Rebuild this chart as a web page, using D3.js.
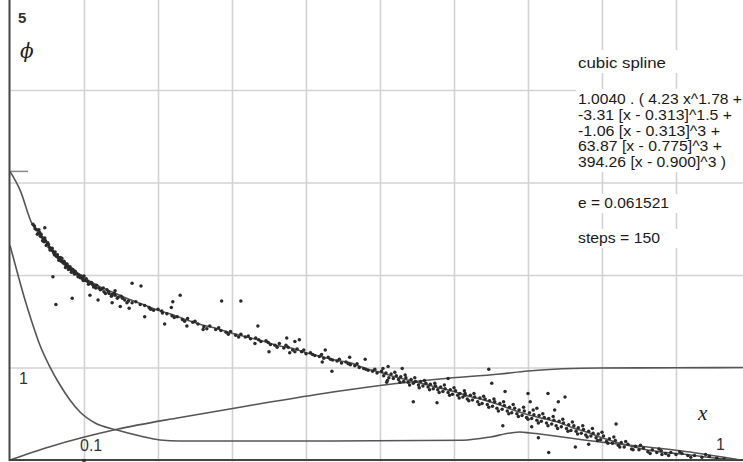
<!DOCTYPE html>
<html>
<head>
<meta charset="utf-8">
<script src="https://cdn.jsdelivr.net/npm/d3@7"></script>
<style>
  html, body { margin: 0; padding: 0; background: #fff; }
  svg { display: block; }
</style>
</head>
<body>
<svg id="chart" width="743" height="462"></svg>
<script>
// ---------- DATA ----------
const xGrid = [0.1, 0.2, 0.3, 0.4, 0.5, 0.6, 0.7, 0.8, 0.9];
const yGrid = [1, 2, 3, 4];
const yTickLabels = [{ v: 5, t: "5" }, { v: 1, t: "1" }];
const xTickLabels = [{ v: 0.1, t: "0.1" }, { v: 1, t: "1" }];

// fitted cubic spline (x, phi)
const fitCurve = [
  [0, 3.12], [0.0135, 2.92], [0.03, 2.55], [0.04, 2.45], [0.05, 2.34], [0.06, 2.24], [0.07, 2.17],
  [0.08, 2.10], [0.09, 2.03], [0.10, 1.97], [0.12, 1.88], [0.14, 1.81], [0.16, 1.74],
  [0.18, 1.68], [0.20, 1.62], [0.22, 1.57], [0.24, 1.51], [0.26, 1.46], [0.28, 1.42],
  [0.30, 1.37], [0.32, 1.33], [0.34, 1.29], [0.36, 1.24], [0.38, 1.21], [0.40, 1.16],
  [0.42, 1.12], [0.44, 1.08], [0.46, 1.05], [0.48, 0.99], [0.50, 0.95], [0.52, 0.90],
  [0.54, 0.86], [0.56, 0.82], [0.58, 0.78], [0.60, 0.74], [0.62, 0.69], [0.64, 0.65],
  [0.66, 0.60], [0.68, 0.54], [0.70, 0.49], [0.72, 0.45], [0.74, 0.41], [0.76, 0.35],
  [0.78, 0.30], [0.80, 0.24], [0.82, 0.19], [0.84, 0.15], [0.86, 0.11], [0.88, 0.087],
  [0.90, 0.07], [0.92, 0.054], [0.94, 0.032], [0.96, 0.016], [0.98, 0.004], [1.0, 0]
];

// steep decaying curve
const decayCurve = [
  [0, 2.32], [0.0108, 2.0], [0.0203, 1.73], [0.0297, 1.49], [0.0405, 1.24], [0.054, 1.005],
  [0.0676, 0.811], [0.081, 0.649], [0.0946, 0.519], [0.115, 0.40], [0.1446, 0.324],
  [0.176, 0.259], [0.2027, 0.216], [0.23, 0.205], [0.392, 0.205], [0.612, 0.214],
  [0.649, 0.249], [0.676, 0.292], [0.689, 0.303], [0.703, 0.292], [0.797, 0.195],
  [0.919, 0.086], [0.986, 0]
];

// rising curve towards 1
const riseCurve = [
  [0, 0], [0.054, 0.144], [0.1446, 0.332], [0.23, 0.46], [0.324, 0.589], [0.419, 0.714],
  [0.5, 0.805], [0.581, 0.876], [0.662, 0.930], [0.70, 0.962], [0.797, 0.995],
  [0.899, 0.997], [1.0, 1.0]
];

// measured points (x, phi)
const samples = [
  [0.031,2.55],[0.034,2.50],[0.036,2.49],[0.038,2.45],[0.040,2.46],[0.041,2.42],[0.043,2.41],[0.045,2.39],
  [0.046,2.36],[0.048,2.37],[0.050,2.33],[0.051,2.35],[0.053,2.30],[0.055,2.29],[0.056,2.27],[0.058,2.26],
  [0.060,2.22],[0.061,2.25],[0.063,2.20],[0.065,2.19],[0.067,2.17],[0.069,2.15],[0.070,2.18],[0.072,2.13],
  [0.074,2.12],[0.076,2.10],[0.078,2.09],[0.080,2.08],[0.082,2.06],[0.084,2.05],[0.086,2.03],[0.088,2.04],
  [0.090,2.01],[0.093,2.00],[0.095,1.97],[0.098,1.96],[0.100,1.99],[0.102,1.94],[0.105,1.93],[0.108,1.91],
  [0.111,1.90],[0.114,1.88],[0.117,1.89],[0.120,1.86],[0.124,1.85],[0.127,1.82],[0.131,1.84],[0.134,1.80],
  [0.138,1.79],[0.142,1.78],[0.146,1.76],[0.150,1.77],[0.155,1.73],[0.160,1.72],[0.165,1.70],[0.170,1.71],
  [0.176,1.68],
  [0.033,2.53],[0.037,2.44],[0.039,2.49],[0.042,2.44],[0.044,2.37],[0.047,2.40],[0.049,2.32],[0.052,2.33],
  [0.054,2.27],[0.057,2.29],[0.059,2.24],[0.062,2.21],[0.064,2.22],[0.066,2.16],[0.068,2.19],[0.071,2.14],
  [0.073,2.15],[0.075,2.08],[0.077,2.12],[0.079,2.06],[0.081,2.09],[0.083,2.03],[0.085,2.06],[0.087,2.01],
  [0.089,2.02],[0.092,1.98],[0.096,1.99],[0.099,1.94],[0.103,1.96],[0.106,1.90],[0.110,1.92],[0.113,1.87],
  [0.116,1.86],[0.122,1.84],[0.126,1.86],[0.129,1.80],[0.133,1.82],[0.137,1.77],[0.141,1.80],[0.145,1.75],
  [0.152,1.75],[0.158,1.70],
  [0.182,1.67],[0.188,1.65],[0.194,1.62],[0.200,1.63],[0.206,1.59],[0.212,1.58],[0.219,1.56],[0.226,1.55],
  [0.233,1.52],[0.240,1.53],[0.247,1.49],[0.254,1.47],[0.262,1.44],[0.270,1.45],[0.278,1.41],[0.285,1.40],
  [0.292,1.38],[0.298,1.39],[0.305,1.35],[0.312,1.36],[0.318,1.33],[0.325,1.31],[0.332,1.32],[0.339,1.28],
  [0.346,1.29],[0.352,1.25],[0.358,1.24],[0.364,1.26],[0.370,1.21],[0.376,1.22],[0.382,1.19],[0.388,1.20],
  [0.394,1.17],[0.400,1.15],[0.406,1.16],[0.412,1.13],[0.418,1.12],[0.424,1.10],[0.430,1.11],[0.436,1.08],
  [0.442,1.07],[0.448,1.05],[0.454,1.06],[0.460,1.03],[0.466,1.02],[0.472,1.00],[0.478,0.99],[0.484,0.97],
  [0.490,0.96],[0.496,0.94],
  [0.190,1.63],[0.205,1.61],[0.222,1.54],[0.236,1.50],[0.250,1.50],[0.266,1.42],[0.282,1.43],[0.295,1.36],
  [0.309,1.33],[0.322,1.34],[0.336,1.30],[0.349,1.27],[0.361,1.22],[0.373,1.24],[0.385,1.17],[0.397,1.19],
  [0.409,1.14],[0.421,1.14],[0.433,1.09],[0.445,1.09],[0.457,1.04],[0.469,1.04],[0.481,0.98],[0.493,0.98],
  [0.502,0.96],[0.505,0.91],[0.508,0.94],[0.512,0.89],[0.515,0.93],[0.518,0.88],[0.522,0.91],[0.525,0.87],
  [0.528,0.90],[0.532,0.85],[0.535,0.89],[0.538,0.84],[0.542,0.87],[0.545,0.83],[0.548,0.85],[0.552,0.81],
  [0.555,0.85],[0.558,0.80],[0.562,0.83],[0.565,0.79],[0.568,0.82],[0.572,0.77],[0.575,0.80],[0.578,0.76],
  [0.582,0.79],[0.585,0.74],[0.588,0.77],[0.592,0.73],[0.595,0.76],[0.598,0.71],[0.602,0.75],[0.605,0.70],
  [0.608,0.72],[0.612,0.68],[0.615,0.72],[0.618,0.66],[0.622,0.70],[0.625,0.65],[0.628,0.68],[0.632,0.63],
  [0.635,0.67],[0.638,0.61],[0.642,0.66],[0.645,0.60],[0.648,0.64],[0.652,0.58],[0.655,0.63],[0.658,0.56],
  [0.662,0.61],[0.665,0.55],[0.668,0.59],[0.672,0.53],[0.675,0.57],[0.678,0.51],[0.682,0.56],[0.685,0.50],
  [0.688,0.54],[0.692,0.48],[0.695,0.53],[0.698,0.46],[0.702,0.51],[0.705,0.45],[0.708,0.49],[0.712,0.43],
  [0.715,0.48],[0.718,0.42],[0.722,0.46],[0.725,0.40],[0.728,0.45],[0.732,0.39],[0.735,0.43],[0.738,0.37],
  [0.742,0.42],[0.745,0.36],[0.748,0.40],[0.752,0.34],[0.755,0.38],[0.758,0.32],[0.762,0.37],[0.765,0.31],
  [0.768,0.35],[0.772,0.29],[0.775,0.33],[0.778,0.27],[0.782,0.31],[0.785,0.26],[0.788,0.29],[0.792,0.24],
  [0.795,0.28],[0.798,0.22],[0.802,0.26],[0.806,0.20],[0.810,0.23],[0.814,0.18],[0.818,0.21],[0.822,0.16],
  [0.826,0.19],[0.830,0.14],[0.835,0.17],[0.840,0.12],[0.845,0.15],[0.850,0.11],[0.856,0.13],[0.862,0.09],
  [0.868,0.11],[0.874,0.08],[0.880,0.10],[0.886,0.07],[0.893,0.08],[0.900,0.06],[0.908,0.07],[0.916,0.05],
  [0.925,0.05],[0.935,0.03],[0.945,0.04],[0.955,0.02],
  [0.504,0.99],[0.510,0.86],[0.520,0.95],[0.527,0.84],[0.534,0.92],[0.540,0.81],[0.547,0.89],[0.553,0.78],
  [0.560,0.86],[0.567,0.76],[0.574,0.83],[0.580,0.73],[0.587,0.81],[0.594,0.70],[0.600,0.78],[0.607,0.67],
  [0.614,0.75],[0.620,0.64],[0.627,0.72],[0.634,0.60],[0.640,0.69],[0.647,0.57],[0.654,0.66],[0.660,0.53],
  [0.667,0.63],[0.674,0.50],[0.680,0.60],[0.687,0.47],[0.694,0.57],[0.700,0.44],[0.707,0.54],[0.714,0.40],
  [0.720,0.50],[0.727,0.37],[0.734,0.47],[0.740,0.34],[0.747,0.44],[0.754,0.31],[0.760,0.41],[0.767,0.28],
  [0.774,0.37],[0.780,0.25],[0.787,0.34],[0.794,0.21],[0.800,0.30],[0.808,0.18],[0.816,0.25],[0.824,0.14],
  [0.832,0.20],[0.842,0.11],[0.852,0.16],[0.865,0.07],[0.877,0.12],[0.890,0.05],[0.905,0.09],[0.920,0.03],
  [0.940,0.06],[0.965,0.01],
  // scattered outliers
  [0.047,2.51],[0.058,1.98],[0.062,1.68],[0.084,1.75],[0.108,1.78],[0.119,1.73],[0.138,1.70],[0.142,1.83],
  [0.149,1.66],[0.161,1.64],[0.165,1.91],[0.177,1.88],[0.182,1.55],[0.209,1.47],[0.220,1.71],[0.218,1.65],
  [0.230,1.78],[0.239,1.45],[0.261,1.41],[0.286,1.72],[0.312,1.72],[0.331,1.26],[0.335,1.45],[0.350,1.17],
  [0.374,1.32],[0.385,1.28],[0.391,1.30],[0.378,1.16],[0.422,1.06],[0.426,1.19],[0.435,0.96],[0.459,1.11],
  [0.480,1.09],[0.509,0.84],[0.511,1.01],[0.530,0.99],[0.545,0.63],[0.577,0.62],[0.592,0.88],[0.615,0.70],
  [0.647,0.98],[0.651,0.83],[0.669,0.74],[0.666,0.37],[0.700,0.72],[0.703,0.63],[0.727,0.72],[0.750,0.68],
  [0.741,0.63],[0.736,0.54],[0.712,0.56],[0.705,0.36],[0.714,0.24],[0.728,0.08],[0.764,0.14],[0.782,0.17],
  [0.819,0.39],[0.881,0.06]
];

const infoTitle = "cubic spline";
const formulaLines = [
  "1.0040 . ( 4.23 x^1.78 +",
  "-3.31 [x - 0.313]^1.5 +",
  "-1.06 [x - 0.313]^3 +",
  "63.87 [x - 0.775]^3 +",
  "394.26 [x - 0.900]^3 )"
];
const errorLine = "e = 0.061521";
const stepsLine = "steps = 150";

// ---------- DRAW ----------
const W = 743, H = 462;
const svg = d3.select("#chart");
const x = d3.scaleLinear().domain([0, 1]).range([10, 750]);
const y = d3.scaleLinear().domain([0, 5]).range([460, -2.5]);

const gridColor = "#d2d2d2";
svg.append("g")
  .attr("transform", `translate(0,${H})`)
  .call(d3.axisBottom(x).tickValues(xGrid).tickSize(-H).tickFormat(""))
  .call(g => g.select(".domain").remove())
  .call(g => g.selectAll("line").attr("stroke", gridColor).attr("stroke-width", 1.6));
svg.append("g")
  .attr("transform", `translate(10,0)`)
  .call(d3.axisLeft(y).tickValues(yGrid).tickSize(-W).tickFormat(""))
  .call(g => g.select(".domain").remove())
  .call(g => g.selectAll("line").attr("stroke", gridColor).attr("stroke-width", 1.6));

// info text block (white background hides grid)
const infoX = 578;
const font = "'Liberation Sans', Arial, Helvetica, sans-serif";
const infoG = svg.append("g");
const boxes = [[50, 73], [89, 172], [194, 213], [229, 248]];
boxes.forEach(b => infoG.append("rect").attr("x", infoX - 2).attr("y", b[0])
  .attr("width", W - infoX + 2).attr("height", b[1] - b[0]).attr("fill", "#fff"));

function infoText(str, base, len) {
  infoG.append("text").attr("x", infoX).attr("y", base)
    .attr("font-family", font).attr("font-size", 15.5).attr("fill", "#1a1a1a")
    .attr("textLength", len).attr("lengthAdjust", "spacingAndGlyphs")
    .text(str);
}
infoText(infoTitle, 68, 88);
const lineLens = [164, 154, 142, 144, 148];
formulaLines.forEach((s, i) => infoText(s, 104 + i * 15.8, lineLens[i]));
infoText(errorLine, 208, 91);
infoText(stepsLine, 243, 82);

// curves
const line = d3.line().x(d => x(d[0])).y(d => y(d[1])).curve(d3.curveMonotoneX);
const curveColor = "#555";
[decayCurve, riseCurve, fitCurve].forEach(c => {
  svg.append("path").datum(c).attr("d", line)
    .attr("fill", "none").attr("stroke", curveColor).attr("stroke-width", 1.6);
});

// sample points
svg.append("g").selectAll("circle").data(samples).join("circle")
  .attr("cx", d => x(d[0])).attr("cy", d => y(d[1])).attr("r", 1.75)
  .attr("fill", "#2a2a2a");

// short mark at phi(0)
svg.append("line").attr("x1", x(0)).attr("x2", x(0) + 18)
  .attr("y1", y(fitCurve[0][1])).attr("y2", y(fitCurve[0][1]))
  .attr("stroke", "#8a8a8a").attr("stroke-width", 1.5);

// axes lines
svg.append("line").attr("x1", 9.5).attr("x2", 9.5).attr("y1", 0).attr("y2", 461)
  .attr("stroke", "#444").attr("stroke-width", 2);
svg.append("line").attr("x1", 9).attr("x2", W).attr("y1", 460).attr("y2", 460)
  .attr("stroke", "#444").attr("stroke-width", 2);
[0.1].forEach(v => svg.append("circle").attr("cx", x(v)).attr("cy", 460.5).attr("r", 1.8).attr("fill", "#333"));

// tick labels
const labFont = "'Liberation Sans', Arial, Helvetica, sans-serif";
svg.append("text").attr("x", 18).attr("y", 23).attr("font-family", labFont)
  .attr("font-size", 15).attr("font-weight", "bold").attr("fill", "#333").text(yTickLabels[0].t);
svg.append("text").attr("x", 19).attr("y", y(yTickLabels[1].v) + 16).attr("font-family", labFont)
  .attr("font-size", 16).attr("fill", "#333").text(yTickLabels[1].t);
svg.append("text").attr("x", x(xTickLabels[0].v) - 4).attr("y", 451).attr("font-family", labFont)
  .attr("font-size", 16).attr("fill", "#333").text(xTickLabels[0].t);
svg.append("text").attr("x", x(xTickLabels[1].v) - 34).attr("y", 450).attr("font-family", labFont)
  .attr("font-size", 16).attr("fill", "#333").text(xTickLabels[1].t);

// axis titles
svg.append("text").attr("x", 20).attr("y", 58).attr("font-family", "'DejaVu Serif', 'Liberation Serif', serif")
  .attr("font-style", "italic").attr("font-size", 20).attr("fill", "#222").text("\u03D5");
svg.append("text").attr("x", 698).attr("y", 420).attr("font-family", "'Liberation Serif', serif")
  .attr("font-style", "italic").attr("font-size", 21).attr("fill", "#222").text("x");
</script>
</body>
</html>
